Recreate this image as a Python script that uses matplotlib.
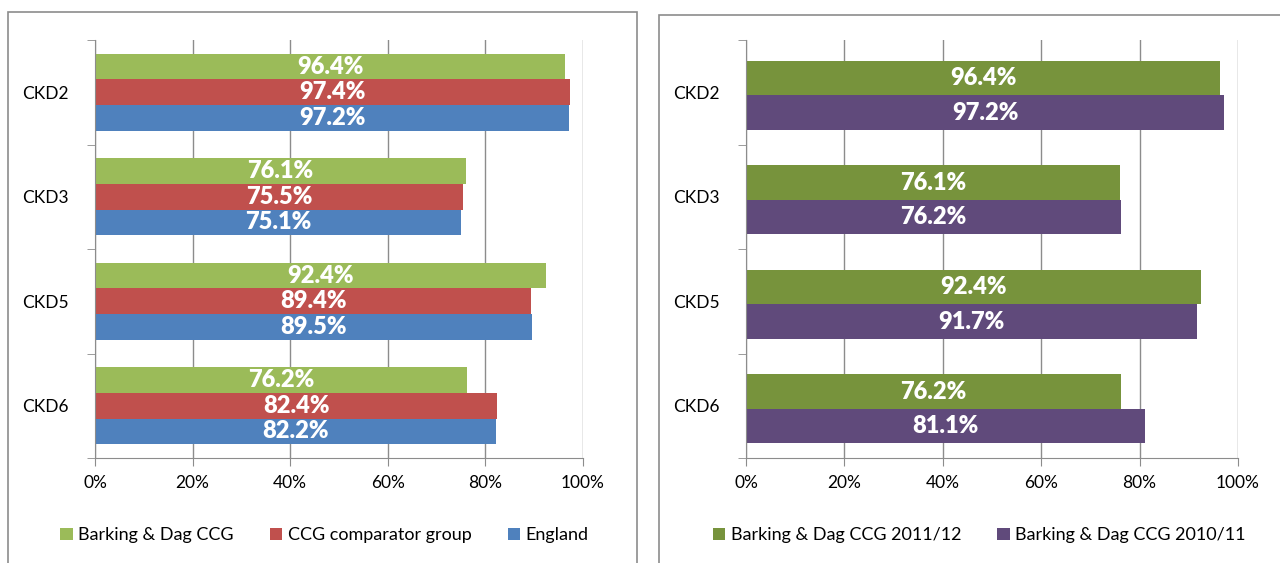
import numpy as np
import matplotlib.pyplot as plt
from matplotlib.patches import Rectangle
from matplotlib.ticker import FuncFormatter, FixedLocator

plt.rcParams['font.family'] = ['Lato', 'DejaVu Sans']

categories = ['CKD2', 'CKD3', 'CKD5', 'CKD6']

# left chart
barking = [96.4, 76.1, 92.4, 76.2]
comparator = [97.4, 75.5, 89.4, 82.4]
england = [97.2, 75.1, 89.5, 82.2]

# right chart
barking_1112 = [96.4, 76.1, 92.4, 76.2]
barking_1011 = [97.2, 76.2, 91.7, 81.1]

fig = plt.figure(figsize=(12.8, 5.63), dpi=100)

# chart frames
fig.patches.append(Rectangle((8 / 1280, -0.01), 629 / 1280, 1 - 12 / 563 + 0.01,
                             transform=fig.transFigure, fill=False,
                             edgecolor='#8c8c8c', linewidth=1.2))
fig.patches.append(Rectangle((659 / 1280, -0.01), 0.5, 1 - 15 / 563 + 0.01,
                             transform=fig.transFigure, fill=False,
                             edgecolor='#8c8c8c', linewidth=1.2))


def style_axes(ax):
    ax.set_xlim(0, 100)
    ax.set_ylim(3.5, -0.5)
    ax.set_xticks(np.arange(0, 101, 20))
    ax.xaxis.set_major_formatter(FuncFormatter(lambda v, p: f'{v:.0f}%'))
    ax.set_yticks(range(len(categories)))
    ax.set_yticklabels(categories)
    ax.yaxis.set_minor_locator(FixedLocator(np.arange(-0.5, 4, 1)))
    ax.tick_params(axis='y', which='major', length=0, pad=19, labelsize=12.5)
    ax.tick_params(axis='y', which='minor', length=6, color='#8c8c8c')
    ax.tick_params(axis='x', length=6, color='#8c8c8c', labelsize=12.5, pad=6)
    ax.grid(axis='x', color='#8c8c8c', linewidth=1)
    ax.set_axisbelow(True)
    for s in ['top', 'right']:
        ax.spines[s].set_visible(False)
    for s in ['left', 'bottom']:
        ax.spines[s].set_color('#8c8c8c')


def label_bars(ax, bars, vals):
    for b, v in zip(bars, vals):
        ax.text(v / 2, b.get_y() + b.get_height() / 2, f'{v:.1f}%',
                ha='center', va='center', color='white',
                fontsize=17, fontweight='heavy')


y = np.arange(len(categories))

ax1 = fig.add_axes([95 / 1280, 1 - 458 / 563, 488 / 1280, 418 / 563])
h = 0.245
series1 = [(barking, '#9BBB59', 'Barking & Dag CCG'),
           (comparator, '#C0504D', 'CCG comparator group'),
           (england, '#4F81BD', 'England')]
for i, (vals, col, lab) in enumerate(series1):
    bars = ax1.barh(y + (i - 1) * h, vals, height=h, color=col, label=lab)
    label_bars(ax1, bars, vals)
style_axes(ax1)
ax1.legend(loc='center', bbox_to_anchor=(0.47, -0.185), ncol=3, frameon=False,
           fontsize=13, handlelength=0.7, handleheight=0.7, handletextpad=0.3,
           columnspacing=2.0)

ax2 = fig.add_axes([746 / 1280, 1 - 458 / 563, 492 / 1280, 418 / 563])
h2 = 0.33
series2 = [(barking_1112, '#77933C', 'Barking & Dag CCG 2011/12'),
           (barking_1011, '#604A7B', 'Barking & Dag CCG 2010/11')]
for i, (vals, col, lab) in enumerate(series2):
    bars = ax2.barh(y + 0.03 + (i - 0.5) * h2, vals, height=h2, color=col, label=lab)
    label_bars(ax2, bars, vals)
style_axes(ax2)
ax2.legend(loc='center', bbox_to_anchor=(0.474, -0.185), ncol=2, frameon=False,
           fontsize=13, handlelength=0.7, handleheight=0.7, handletextpad=0.3,
           columnspacing=2.0)

fig.savefig('out.png', dpi=100)
